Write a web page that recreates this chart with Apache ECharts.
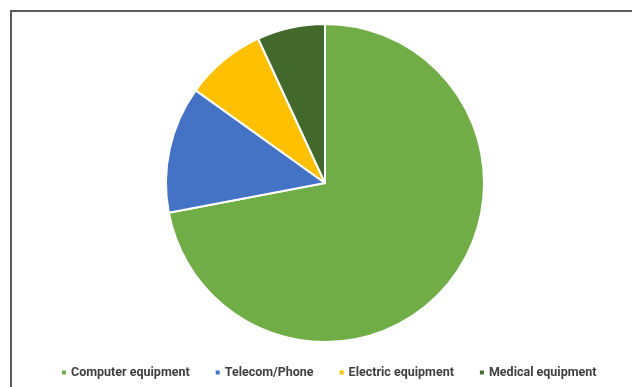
<!DOCTYPE html>
<html>
<head>
<meta charset="utf-8">
<script src="https://cdn.jsdelivr.net/npm/echarts@6/dist/echarts.min.js"></script>
<style>
  html, body { margin: 0; padding: 0; background: #fff; }
  #chart { width: 632px; height: 387px; }
</style>
</head>
<body>
<div id="chart"></div>
<script>
// slice names and shares (%)
const categories = ['Computer equipment', 'Telecom/Phone', 'Electric equipment', 'Medical equipment'];
const values = [72, 12.9, 8.2, 6.9];
const colors = ['#70AD47', '#4472C4', '#FFC000', '#43682B'];

const chart = echarts.init(document.getElementById('chart'));

const option = {
  animation: false,
  color: colors,
  legend: {
    top: 361,
    left: 55,
    itemWidth: 6,
    itemHeight: 6,
    itemGap: 24,
    icon: 'rect',
    textStyle: {
      fontFamily: 'Roboto',
      fontWeight: 'bold',
      fontSize: 12.5,
      color: '#404040',
      padding: [0, 0, 0, -1],
    },
    data: categories,
  },
  graphic: {
    elements: [
      {
        // frame border (top and left edges are visible)
        type: 'polyline',
        shape: { points: [[11, 400], [11, 11], [640, 11]] },
        style: { stroke: '#595959', lineWidth: 2, fill: 'none' },
        silent: true,
      },
    ],
  },
  series: [
    {
      type: 'pie',
      center: [325, 183],
      radius: 159,
      startAngle: 90,
      clockwise: true,
      label: { show: false },
      labelLine: { show: false },
      itemStyle: { borderColor: '#fff', borderWidth: 2 },
      emphasis: { disabled: true },
      data: categories.map((name, i) => ({ name, value: values[i] })),
    },
  ],
};

chart.setOption(option);
</script>
</body>
</html>
